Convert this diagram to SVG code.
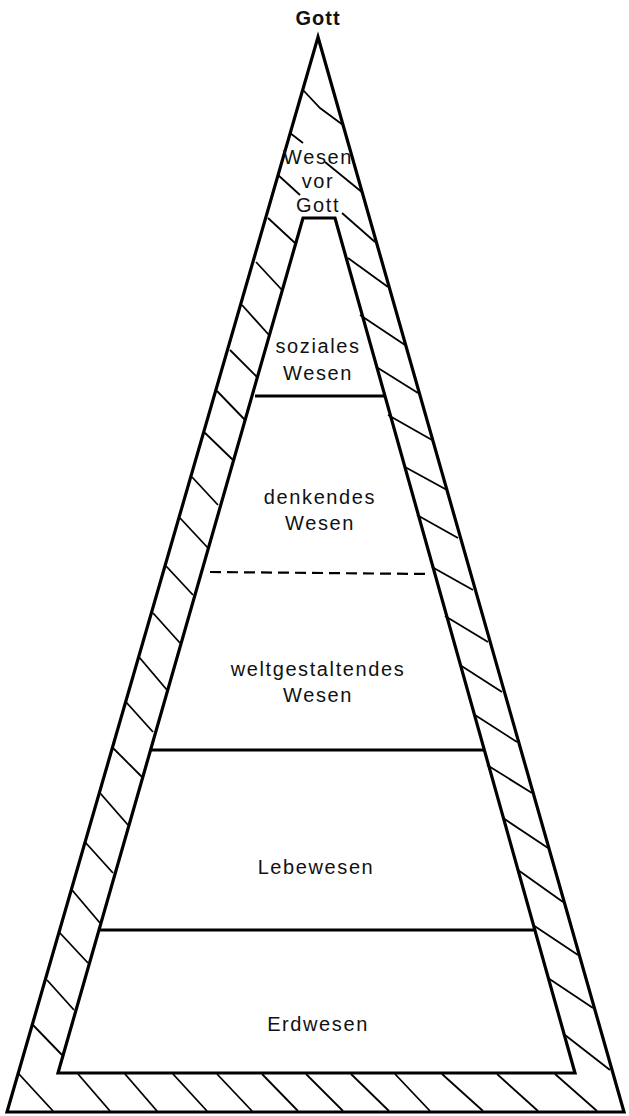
<svg xmlns="http://www.w3.org/2000/svg" width="629" height="1116" viewBox="0 0 629 1116">
<style>
.edge{fill:none;stroke:#000;stroke-width:3.2;stroke-linejoin:miter}
.div{stroke:#000;stroke-width:3}
.dash{stroke:#000;stroke-width:2.2;stroke-dasharray:11 6}
.hatch{fill:none;stroke:#000;stroke-width:1.8}
.lbl{font-family:"Liberation Sans",Arial,sans-serif;font-size:20px;letter-spacing:1.6px;fill:#111;text-anchor:middle}
.top{font-weight:bold;letter-spacing:1px}
</style>
<rect width="629" height="1116" fill="#fff"/>
<g id="pyramid-outline">
<polygon class="edge" points="318,37 624,1112 7,1112"/>
<polygon class="edge" points="303,218 335,218 575,1073 58,1073"/>
</g>
<g id="hatching">
<path class="hatch" d="M303,90 L320,108 L343,125"/>
<line class="hatch" x1="290" y1="133" x2="303" y2="143"/>
<line class="hatch" x1="325" y1="162" x2="363" y2="193"/>
<line class="hatch" x1="278" y1="175" x2="300" y2="195"/>
<line class="hatch" x1="268" y1="218" x2="295" y2="243"/>
<line class="hatch" x1="256" y1="262" x2="282" y2="290"/>
<line class="hatch" x1="242" y1="305" x2="269" y2="335"/>
<line class="hatch" x1="230" y1="350" x2="257" y2="377"/>
<line class="hatch" x1="217" y1="391" x2="245" y2="420"/>
<line class="hatch" x1="204" y1="432" x2="233" y2="460"/>
<line class="hatch" x1="192" y1="477" x2="218" y2="505"/>
<line class="hatch" x1="180" y1="518" x2="208" y2="548"/>
<line class="hatch" x1="166" y1="566" x2="193" y2="595"/>
<line class="hatch" x1="153" y1="613" x2="180" y2="643"/>
<line class="hatch" x1="139" y1="657" x2="167" y2="690"/>
<line class="hatch" x1="126" y1="702" x2="153" y2="732"/>
<line class="hatch" x1="113" y1="748" x2="142" y2="777"/>
<line class="hatch" x1="100" y1="793" x2="128" y2="825"/>
<line class="hatch" x1="85" y1="842" x2="113" y2="873"/>
<line class="hatch" x1="72" y1="890" x2="100" y2="923"/>
<line class="hatch" x1="59" y1="932" x2="88" y2="963"/>
<line class="hatch" x1="47" y1="980" x2="74" y2="1010"/>
<line class="hatch" x1="33" y1="1025" x2="62" y2="1055"/>
<line class="hatch" x1="18" y1="1073" x2="53" y2="1111"/>
<line class="hatch" x1="342" y1="213" x2="375" y2="242"/>
<line class="hatch" x1="348" y1="258" x2="388" y2="287"/>
<line class="hatch" x1="360" y1="315" x2="405" y2="345"/>
<line class="hatch" x1="378" y1="368" x2="418" y2="393"/>
<line class="hatch" x1="388" y1="415" x2="432" y2="440"/>
<line class="hatch" x1="405" y1="467" x2="447" y2="490"/>
<line class="hatch" x1="417" y1="515" x2="458" y2="538"/>
<line class="hatch" x1="432" y1="567" x2="473" y2="590"/>
<line class="hatch" x1="445" y1="616" x2="488" y2="642"/>
<line class="hatch" x1="460" y1="665" x2="502" y2="692"/>
<line class="hatch" x1="475" y1="715" x2="517" y2="742"/>
<line class="hatch" x1="487" y1="765" x2="532" y2="793"/>
<line class="hatch" x1="503" y1="818" x2="548" y2="848"/>
<line class="hatch" x1="518" y1="870" x2="563" y2="902"/>
<line class="hatch" x1="533" y1="925" x2="578" y2="955"/>
<line class="hatch" x1="548" y1="978" x2="593" y2="1008"/>
<line class="hatch" x1="565" y1="1035" x2="610" y2="1070"/>
<line class="hatch" x1="78" y1="1074" x2="110" y2="1111"/>
<line class="hatch" x1="125" y1="1074" x2="157" y2="1111"/>
<line class="hatch" x1="173" y1="1074" x2="207" y2="1111"/>
<line class="hatch" x1="217" y1="1074" x2="252" y2="1111"/>
<line class="hatch" x1="262" y1="1074" x2="298" y2="1111"/>
<line class="hatch" x1="306" y1="1074" x2="343" y2="1111"/>
<line class="hatch" x1="351" y1="1074" x2="389" y2="1111"/>
<line class="hatch" x1="395" y1="1074" x2="430" y2="1111"/>
<line class="hatch" x1="442" y1="1074" x2="483" y2="1111"/>
<line class="hatch" x1="497" y1="1074" x2="538" y2="1111"/>
<line class="hatch" x1="555" y1="1074" x2="597" y2="1111"/>
</g>
<g id="connectors">
<line class="div" x1="255" y1="396" x2="384" y2="396"/>
<line class="dash" x1="210" y1="572" x2="431" y2="574"/>
<line class="div" x1="151" y1="750" x2="484" y2="750"/>
<line class="div" x1="99" y1="930" x2="534" y2="930"/>
</g>
<g id="node-gott"><text class="lbl top" x="318" y="25">Gott</text></g>
<g id="node-wesen-vor-gott"><text class="lbl" x="318" y="164">Wesen</text><text class="lbl" x="318" y="188">vor</text><text class="lbl" x="318" y="212">Gott</text></g>
<g id="node-soziales"><text class="lbl" x="318" y="353">soziales</text><text class="lbl" x="318" y="380">Wesen</text></g>
<g id="node-denkendes"><text class="lbl" x="320" y="504">denkendes</text><text class="lbl" x="320" y="530">Wesen</text></g>
<g id="node-weltgestaltendes"><text class="lbl" x="318" y="676">weltgestaltendes</text><text class="lbl" x="318" y="702">Wesen</text></g>
<g id="node-lebewesen"><text class="lbl" x="316" y="874">Lebewesen</text></g>
<g id="node-erdwesen"><text class="lbl" x="318" y="1031">Erdwesen</text></g>
</svg>
